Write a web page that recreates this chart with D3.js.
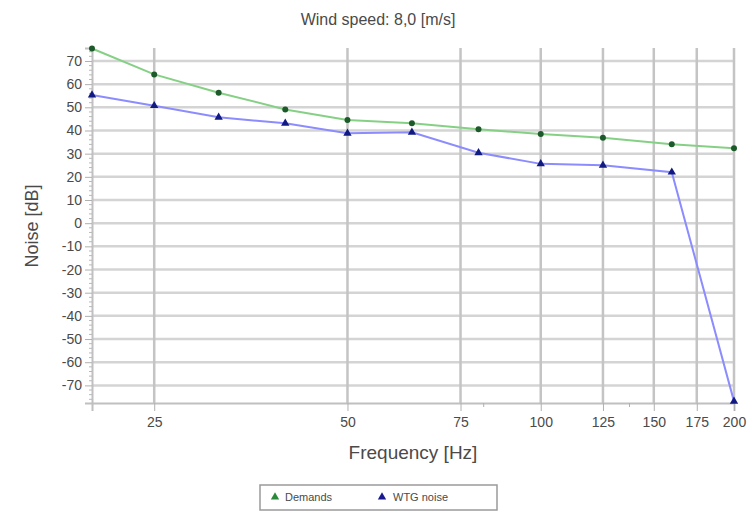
<!DOCTYPE html>
<html><head><meta charset="utf-8">
<script src="https://cdn.jsdelivr.net/npm/d3@7"></script>
<style>
body{margin:0;background:#fff;}
text{font-family:"Liberation Sans",Arial,sans-serif;fill:#4a4a4a;}
</style></head>
<body><svg id="c" width="756" height="513"></svg>
<script>
const frequencies = [20, 25, 31.5, 40, 50, 63, 80, 100, 125, 160, 200];
const demands = [75.4, 64.2, 56.3, 49.1, 44.5, 43.1, 40.5, 38.5, 36.9, 34.1, 32.3];
const wtgNoise = [55.3, 50.7, 45.7, 43.1, 38.8, 39.2, 30.4, 25.6, 25.0, 22.0, -76.9];
const xTicks = [25, 50, 75, 100, 125, 150, 175, 200];
const yTicks = [70, 60, 50, 40, 30, 20, 10, 0, -10, -20, -30, -40, -50, -60, -70];
const titleText = "Wind speed: 8,0 [m/s]";
const xTitle = "Frequency [Hz]";
const yTitle = "Noise [dB]";
const seriesNames = ["Demands", "WTG noise"];

const svg = d3.select("#c");
const x = d3.scaleLog().domain([20, 200]).range([92, 734]);
const y = d3.scaleLinear().domain([-77.6, 75.6]).range([403, 48]);

// gridlines
svg.append("g").selectAll("line").data(yTicks).join("line")
  .attr("x1", 92).attr("x2", 734).attr("y1", d => y(d)).attr("y2", d => y(d))
  .attr("stroke", "#d4d4d4").attr("stroke-width", 2.5);
svg.append("g").selectAll("line").data(xTicks).join("line")
  .attr("x1", d => x(d)).attr("x2", d => x(d)).attr("y1", 48).attr("y2", 403)
  .attr("stroke", "#c4c4c4").attr("stroke-width", 2.5);

// axes
const yAxis = svg.append("g").attr("transform", "translate(92,0)")
  .call(d3.axisLeft(y).tickValues(yTicks).tickSize(7).tickPadding(3).tickFormat(d => String(d)));
const yMinor = d3.range(-76, 76, 2).filter(v => v % 10 !== 0);
svg.append("g").selectAll("line").data(yMinor).join("line")
  .attr("x1", 89).attr("x2", 92).attr("y1", d => y(d)).attr("y2", d => y(d))
  .attr("stroke", "#b8b8b8");
const xAxis = svg.append("g").attr("transform", "translate(0,403)")
  .call(d3.axisBottom(x).tickValues(xTicks).tickSize(8).tickPadding(6).tickFormat(d => String(d)));
svg.append("g").selectAll("line").data([81.5, 137.5]).join("line")
  .attr("x1", d => x(d)).attr("x2", d => x(d)).attr("y1", 403).attr("y2", 407)
  .attr("stroke", "#b0b0b0");
[yAxis, xAxis].forEach(a => {
  a.select(".domain").attr("stroke", "#c0c0c0").attr("stroke-width", 2);
  a.selectAll(".tick line").attr("stroke", "#b0b0b0");
  a.selectAll(".tick text").attr("font-size", 14).attr("fill", "#4a4a4a")
    .attr("font-family", "'Liberation Sans Narrow','Liberation Sans',Arial,sans-serif");
});

// lines
const line = d3.line().x(d => x(d[0])).y(d => y(d[1]));
const dem = frequencies.map((f, i) => [f, demands[i]]);
const wtg = frequencies.map((f, i) => [f, wtgNoise[i]]);
svg.append("path").datum(dem).attr("d", line).attr("fill", "none")
  .attr("stroke", "#86d086").attr("stroke-width", 2);
svg.append("path").datum(wtg).attr("d", line).attr("fill", "none")
  .attr("stroke", "#8c8cff").attr("stroke-width", 2);

const tri = d3.symbol().type(d3.symbolTriangle).size(30);
const circ = d3.symbol().type(d3.symbolCircle).size(28);
svg.append("g").selectAll("path").data(dem).join("path")
  .attr("transform", d => `translate(${x(d[0])},${y(d[1])})`)
  .attr("d", circ).attr("fill", "#1d5a2a");
svg.append("g").selectAll("path").data(wtg).join("path")
  .attr("transform", d => `translate(${x(d[0])},${y(d[1])})`)
  .attr("d", tri).attr("fill", "#101a80");

// titles
svg.append("text").attr("x", 378).attr("y", 25).attr("text-anchor", "middle")
  .attr("font-size", 16).attr("fill", "#555").text(titleText);
svg.append("text").attr("x", 413).attr("y", 459).attr("text-anchor", "middle")
  .attr("font-size", 19).text(xTitle);
svg.append("text").attr("transform", "translate(38,226) rotate(-90)").attr("text-anchor", "middle")
  .attr("font-size", 18).text(yTitle);

// legend
const lg = svg.append("g");
lg.append("rect").attr("x", 260).attr("y", 485).attr("width", 237).attr("height", 25)
  .attr("fill", "#fff").attr("stroke", "#9a9a9a").attr("stroke-width", 1.5);
lg.append("path").attr("transform", "translate(275,497)").attr("d", tri).attr("fill", "#2a8a3a");
lg.append("text").attr("x", 285).attr("y", 501).attr("font-size", 11).text(seriesNames[0]);
lg.append("path").attr("transform", "translate(382,497)").attr("d", tri).attr("fill", "#1a1a90");
lg.append("text").attr("x", 393).attr("y", 501).attr("font-size", 11).text(seriesNames[1]);
</script></body></html>
